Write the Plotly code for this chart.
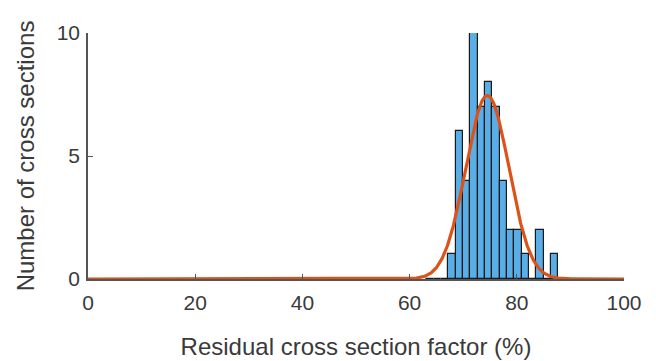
import numpy as np
import plotly.graph_objects as go

# Histogram data
bin_start = 63.1
bin_width = 1.37
counts = [0, 0, 0, 1, 6, 4, 10, 7, 8, 7, 4, 2, 2, 1, 0, 2, 0, 1]

# Fitted normal distribution parameters
fit_mu = 74.5
fit_sigma = 4.03

x_ticks = [0, 20, 40, 60, 80, 100]
y_ticks = [0, 5, 10]

centers = [bin_start + bin_width * (i + 0.5) for i in range(len(counts))]
n_total = sum(counts)
xs = np.linspace(0, 100, 1001)
ys = n_total * bin_width / (fit_sigma * np.sqrt(2 * np.pi)) * np.exp(-0.5 * ((xs - fit_mu) / fit_sigma) ** 2)

fig = go.Figure()
fig.add_trace(go.Bar(x=centers, y=counts, width=bin_width,
                     marker=dict(color="#5aaee8", line=dict(color="#1a1a1a", width=1.2)),
                     hoverinfo="skip"))
fig.add_trace(go.Scatter(x=xs, y=ys, mode="lines",
                         line=dict(color="#dc5319", width=3.2), hoverinfo="skip"))

fam = "Liberation Sans, Arial, sans-serif"
tick_font = dict(family=fam, size=21, color="#3a3a3a")
title_font = dict(family=fam, size=24, color="#3a3a3a")
fig.update_layout(
    width=656, height=361,
    margin=dict(l=88, r=32, t=33, b=82),
    paper_bgcolor="white", plot_bgcolor="white",
    showlegend=False, bargap=0,
    font=tick_font,
)
fig.update_xaxes(range=[0, 100], tickvals=x_ticks, ticks="inside", ticklen=5, tickcolor="#555",
                 showline=True, linecolor="#555", linewidth=1.5, showgrid=False, zeroline=False,
                 tickfont=tick_font, ticklabelstandoff=4, automargin=False,
                 title=dict(text="Residual cross section factor (%)", font=title_font, standoff=25))
fig.update_yaxes(range=[0, 10], tickvals=y_ticks, ticks="inside", ticklen=5, tickcolor="#555",
                 showline=True, linecolor="#555", linewidth=1.5, showgrid=False, zeroline=False,
                 tickfont=tick_font, ticklabelstandoff=2, automargin=False,
                 title=dict(text="Number of cross sections", font=title_font, standoff=15))

fig.write_html("out.html")
